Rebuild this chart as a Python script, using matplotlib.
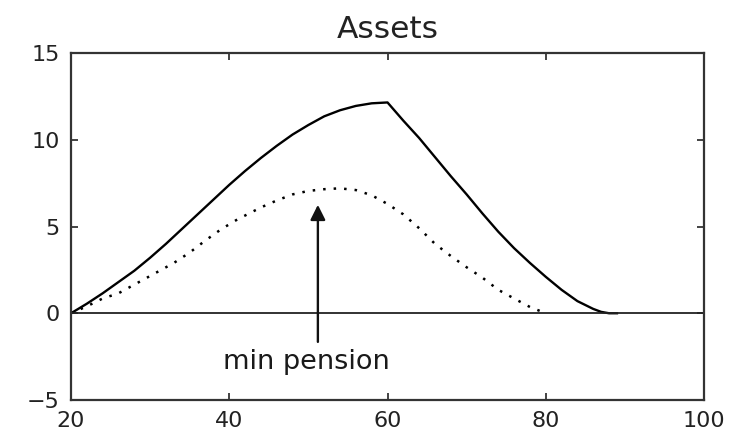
import matplotlib
matplotlib.use('Agg')
import matplotlib.pyplot as plt

# asset profile by age (solid: no minimum pension, dotted: with minimum pension)
age_a = [20, 22, 24, 26, 28, 30, 32, 34, 36, 38, 40, 42, 44, 46, 48, 50, 52,
         54, 56, 58, 60, 62, 64, 66, 68, 70, 72, 74, 76, 78, 80, 82, 84, 86,
         87, 88, 89]
assets_a = [0, 0.55, 1.15, 1.8, 2.45, 3.2, 4.0, 4.85, 5.7, 6.55, 7.4, 8.2,
            8.95, 9.65, 10.3, 10.85, 11.35, 11.7, 11.95, 12.1, 12.15,
            11.1, 10.1, 9.0, 7.9, 6.85, 5.75, 4.7, 3.75, 2.9, 2.1, 1.35, 0.7,
            0.25, 0.08, 0.0, 0.0]

age_b = [20, 22, 24, 26, 28, 30, 33, 35, 37, 39, 41, 44, 46, 48, 50, 52, 54,
         56, 58, 60, 62, 64, 66, 68, 70, 72, 74, 76, 78, 80]
assets_b = [0, 0.4, 0.85, 1.15, 1.65, 2.15, 2.9, 3.5, 4.2, 4.85, 5.4, 6.1, 6.5,
            6.85, 7.05, 7.15, 7.2, 7.1, 6.8, 6.3, 5.7, 4.9, 4.0, 3.3, 2.65,
            2.05, 1.35, 0.85, 0.36, 0.0]

arrow_x = 51.2
arrow_tip = 6.25
arrow_base = -1.65
label = 'min pension'

plt.rcParams['font.family'] = ['DejaVu Sans']

fig = plt.figure(figsize=(7.42, 4.33), dpi=100)
ax = fig.add_axes([0.0957, 0.0762, 0.8531, 0.8014])

ax.plot(age_a, assets_a, color='black', lw=1.7)
ax.plot(age_b, assets_b, color='black', lw=1.8, linestyle=(0, (1, 3.2)))
ax.axhline(0, color='#222222', lw=1.3)

ax.annotate('', xy=(arrow_x, arrow_tip), xytext=(arrow_x, arrow_base),
            arrowprops=dict(arrowstyle='-|>,head_length=0.5,head_width=0.25',
                            mutation_scale=18, color='#111111', lw=1.7,
                            shrinkA=0, shrinkB=0))
ax.text(49.7, -2.8, label, ha='center', va='center', fontsize=19.5,
        color='#1a1a1a')

ax.set_xlim(20, 100)
ax.set_ylim(-5, 15)
ax.set_xticks([20, 40, 60, 80, 100])
ax.set_yticks([-5, 0, 5, 10, 15])
ax.tick_params(direction='in', length=5, width=1.2, top=True, right=True,
               labelsize=16, colors='#222222', pad=8)
ax.set_yticklabels(['\u22125', '0', '5', '10', '15'])
for s in ax.spines.values():
    s.set_linewidth(1.6)
    s.set_color('#333333')

ax.set_title('Assets', fontsize=22.5, color='#222222', pad=11)

fig.savefig('out.png', dpi=100)
